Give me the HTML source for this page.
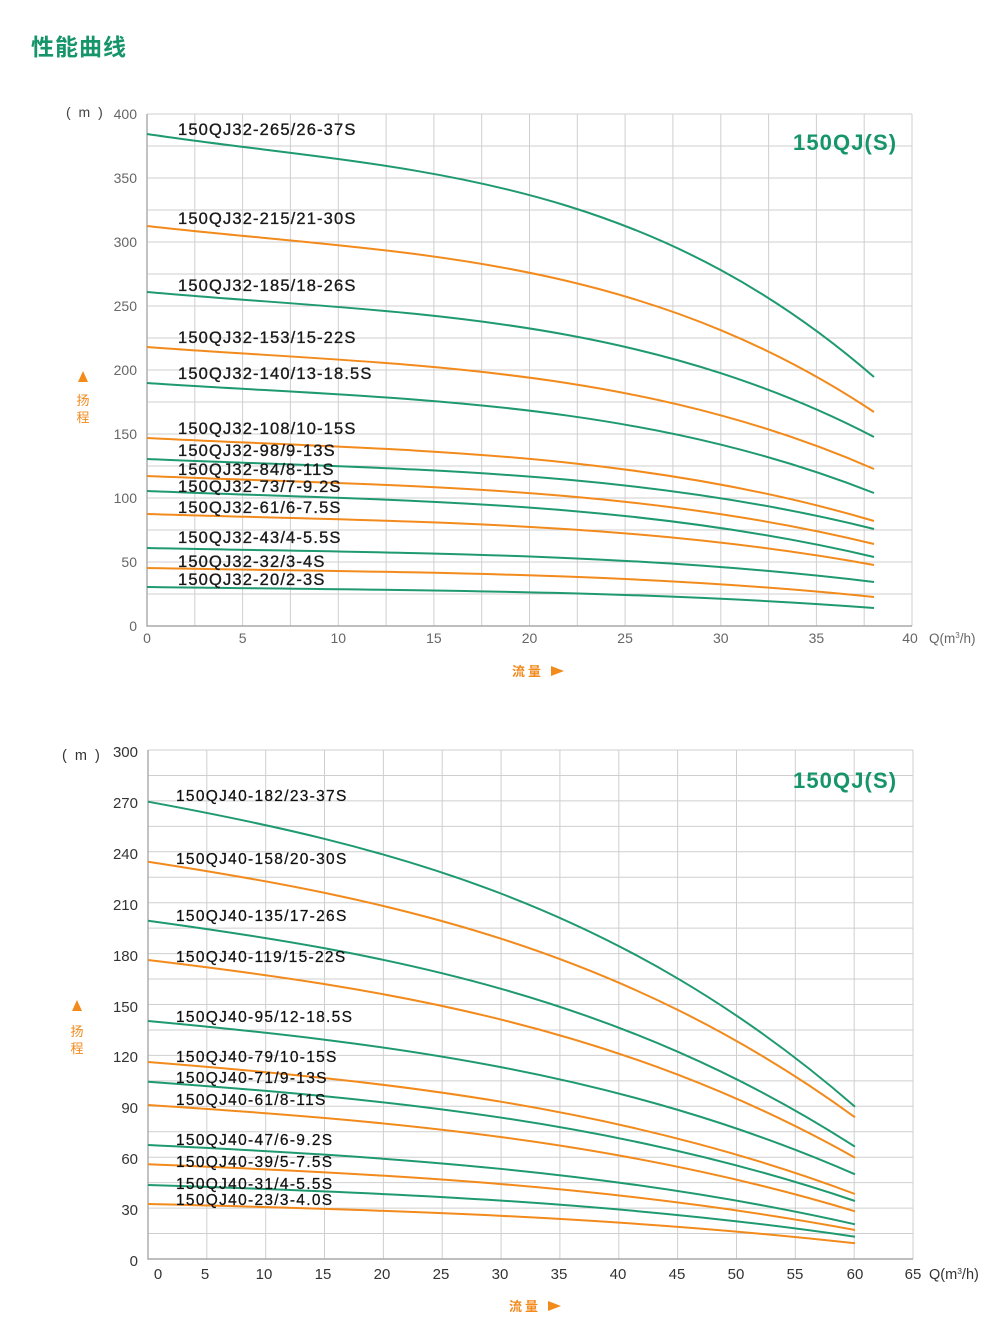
<!DOCTYPE html>
<html><head><meta charset="utf-8"><style>
html,body{margin:0;padding:0;background:#fff;}
svg{display:block;}
.t{font-family:"Liberation Sans","Noto Sans CJK SC",sans-serif;}
.lab1{font-size:16.5px;fill:#1a1a1a;letter-spacing:1.15px;stroke:#1a1a1a;stroke-width:0.35px;}
.lab2{font-size:15.5px;fill:#111;letter-spacing:1.3px;stroke:#111;stroke-width:0.25px;}
.ax1{font-size:14px;fill:#666;}
.ax2{font-size:15px;fill:#333;}
.g{fill:none;stroke:#1f9a6f;stroke-width:2;}
.o{fill:none;stroke:#f28a1c;stroke-width:2;}
.grid{fill:none;stroke:#cfcfcf;stroke-width:1;}
.axl{fill:none;stroke:#a8a8a8;stroke-width:1.4;}
</style></head><body>
<svg width="996" height="1320" viewBox="0 0 996 1320" xmlns="http://www.w3.org/2000/svg">
<rect width="996" height="1320" fill="#fff"/>
<text x="31" y="55" class="t" style="font-family:'Liberation Sans','Noto Sans CJK SC',sans-serif;font-size:23px;font-weight:bold;fill:#17956a;letter-spacing:1px">性能曲线</text>

<!-- ===== TOP CHART ===== -->
<path class="grid" d="M194.8,114V626 M242.6,114V626 M290.4,114V626 M338.3,114V626 M386.1,114V626 M433.9,114V626 M481.7,114V626 M529.5,114V626 M577.3,114V626 M625.1,114V626 M672.9,114V626 M720.8,114V626 M768.6,114V626 M816.4,114V626 M864.2,114V626 M912,114V626
M147,114H912 M147,146H912 M147,178H912 M147,210H912 M147,242H912 M147,274H912 M147,306H912 M147,338H912 M147,370H912 M147,402H912 M147,434H912 M147,466H912 M147,498H912 M147,530H912 M147,562H912 M147,594H912"/>
<path class="axl" d="M147,114V626H912"/>

<path class="g" d="M147,134 C389.3,170.5 631.7,166.4 874,377"/>
<path class="o" d="M147,226 C389.3,253.9 631.7,250.8 874,412"/>
<path class="g" d="M147,292 C389.3,313.8 631.7,311.3 874,437"/>
<path class="o" d="M147,347 C389.3,365.3 631.7,363.3 874,469"/>
<path class="g" d="M147,383 C389.3,399.5 631.7,397.7 874,493"/>
<path class="o" d="M147,438 C389.3,450.5 631.7,449.1 874,521"/>
<path class="g" d="M147,459 C389.3,469.5 631.7,468.3 874,529"/>
<path class="o" d="M147,476 C389.3,486.2 631.7,485.1 874,544"/>
<path class="g" d="M147,491 C389.3,500.9 631.7,499.8 874,557"/>
<path class="o" d="M147,514 C389.3,521.7 631.7,520.8 874,565"/>
<path class="g" d="M147,548 C389.3,553.1 631.7,552.5 874,582"/>
<path class="o" d="M147,568 C389.3,572.4 631.7,571.9 874,597"/>
<path class="g" d="M147,587 C389.3,590.2 631.7,589.8 874,608"/>

<g class="t lab1">
<text x="178" y="135">150QJ32-265/26-37S</text>
<text x="178" y="224">150QJ32-215/21-30S</text>
<text x="178" y="291">150QJ32-185/18-26S</text>
<text x="178" y="343">150QJ32-153/15-22S</text>
<text x="178" y="379">150QJ32-140/13-18.5S</text>
<text x="178" y="434">150QJ32-108/10-15S</text>
<text x="178" y="456">150QJ32-98/9-13S</text>
<text x="178" y="475">150QJ32-84/8-11S</text>
<text x="178" y="492">150QJ32-73/7-9.2S</text>
<text x="178" y="513">150QJ32-61/6-7.5S</text>
<text x="178" y="543">150QJ32-43/4-5.5S</text>
<text x="178" y="567">150QJ32-32/3-4S</text>
<text x="178" y="585">150QJ32-20/2-3S</text>
</g>

<text x="793" y="150" class="t" style="font-size:22px;font-weight:bold;fill:#17956a;letter-spacing:1.1px">150QJ(S)</text>

<g class="t ax1" text-anchor="end">
<text x="137" y="119">400</text>
<text x="137" y="183">350</text>
<text x="137" y="247">300</text>
<text x="137" y="311">250</text>
<text x="137" y="375">200</text>
<text x="137" y="439">150</text>
<text x="137" y="503">100</text>
<text x="137" y="567">50</text>
<text x="137" y="631">0</text>
</g>
<g class="t ax1" text-anchor="middle">
<text x="147" y="643">0</text>
<text x="242.6" y="643">5</text>
<text x="338.3" y="643">10</text>
<text x="433.9" y="643">15</text>
<text x="529.5" y="643">20</text>
<text x="625.1" y="643">25</text>
<text x="720.8" y="643">30</text>
<text x="816.4" y="643">35</text>
<text x="910" y="643">40</text>
</g>
<text x="929" y="643" class="t" style="font-size:13.5px;fill:#666">Q(m<tspan dy="-5" font-size="8">3</tspan><tspan dy="5">/h)</tspan></text>
<text x="66" y="117" class="t" style="font-size:14px;fill:#444;letter-spacing:2px">( m )</text>

<polygon points="83,371 88,382 78,382" fill="#f28a1c"/>
<text x="83" y="405" class="t" text-anchor="middle" style="font-size:13px;fill:#f28a1c">扬</text>
<text x="83" y="422" class="t" text-anchor="middle" style="font-size:13px;fill:#f28a1c">程</text>
<text x="512" y="676" class="t" style="font-size:13px;font-weight:bold;fill:#f28a1c;letter-spacing:3px">流量</text>
<polygon points="551,666 564,671 551,676" fill="#f28a1c"/>

<!-- ===== BOTTOM CHART ===== -->
<path class="grid" d="M206.8,750V1259 M265.7,750V1259 M324.5,750V1259 M383.4,750V1259 M442.2,750V1259 M501.1,750V1259 M559.9,750V1259 M618.8,750V1259 M677.6,750V1259 M736.5,750V1259 M795.3,750V1259 M854.2,750V1259 M913,750V1259
M148,750H913 M148,775.45H913 M148,800.9H913 M148,826.35H913 M148,851.8H913 M148,877.25H913 M148,902.7H913 M148,928.15H913 M148,953.6H913 M148,979.05H913 M148,1004.5H913 M148,1029.95H913 M148,1055.4H913 M148,1080.85H913 M148,1106.3H913 M148,1131.75H913 M148,1157.2H913 M148,1182.65H913 M148,1208.1H913 M148,1233.55H913"/>
<path class="axl" d="M148,750V1259H913"/>

<path class="g" d="M148,801.7 C383.7,845.2 619.3,902 855,1106.7"/>
<path class="o" d="M148,861.7 C383.7,898.1 619.3,945.8 855,1117.3"/>
<path class="g" d="M148,920.7 C383.7,952.9 619.3,995.1 855,1146.7"/>
<path class="o" d="M148,960 C383.7,988.2 619.3,1025 855,1157.7"/>
<path class="g" d="M148,1021 C383.7,1042.9 619.3,1071.4 855,1174.3"/>
<path class="o" d="M148,1062 C383.7,1080.8 619.3,1105.4 855,1194"/>
<path class="g" d="M148,1081.7 C383.7,1098.7 619.3,1120.9 855,1201"/>
<path class="o" d="M148,1105 C383.7,1120.2 619.3,1140 855,1211.3"/>
<path class="g" d="M148,1145 C383.7,1156.3 619.3,1171.1 855,1224.3"/>
<path class="o" d="M148,1164.3 C383.7,1173.7 619.3,1185.9 855,1230"/>
<path class="g" d="M148,1185 C383.7,1192.4 619.3,1202 855,1236.7"/>
<path class="o" d="M148,1204 C383.7,1209.6 619.3,1216.9 855,1243.3"/>

<g class="t lab2">
<text x="176" y="801">150QJ40-182/23-37S</text>
<text x="176" y="864">150QJ40-158/20-30S</text>
<text x="176" y="921">150QJ40-135/17-26S</text>
<text x="176" y="962">150QJ40-119/15-22S</text>
<text x="176" y="1022">150QJ40-95/12-18.5S</text>
<text x="176" y="1062">150QJ40-79/10-15S</text>
<text x="176" y="1083">150QJ40-71/9-13S</text>
<text x="176" y="1105">150QJ40-61/8-11S</text>
<text x="176" y="1145">150QJ40-47/6-9.2S</text>
<text x="176" y="1167">150QJ40-39/5-7.5S</text>
<text x="176" y="1189">150QJ40-31/4-5.5S</text>
<text x="176" y="1205">150QJ40-23/3-4.0S</text>
</g>

<text x="793" y="788" class="t" style="font-size:22px;font-weight:bold;fill:#17956a;letter-spacing:1.1px">150QJ(S)</text>

<g class="t ax2" text-anchor="end">
<text x="138" y="757">300</text>
<text x="138" y="808">270</text>
<text x="138" y="859">240</text>
<text x="138" y="910">210</text>
<text x="138" y="961">180</text>
<text x="138" y="1012">150</text>
<text x="138" y="1062">120</text>
<text x="138" y="1113">90</text>
<text x="138" y="1164">60</text>
<text x="138" y="1215">30</text>
<text x="138" y="1266">0</text>
</g>
<g class="t ax2" text-anchor="middle">
<text x="158" y="1279">0</text>
<text x="205" y="1279">5</text>
<text x="264" y="1279">10</text>
<text x="323" y="1279">15</text>
<text x="382" y="1279">20</text>
<text x="441" y="1279">25</text>
<text x="500" y="1279">30</text>
<text x="559" y="1279">35</text>
<text x="618" y="1279">40</text>
<text x="677" y="1279">45</text>
<text x="736" y="1279">50</text>
<text x="795" y="1279">55</text>
<text x="855" y="1279">60</text>
<text x="913" y="1279">65</text>
</g>
<text x="929" y="1279" class="t" style="font-size:14.5px;fill:#333">Q(m<tspan dy="-5" font-size="8.5">3</tspan><tspan dy="5">/h)</tspan></text>
<text x="62" y="760" class="t" style="font-size:14.5px;fill:#333;letter-spacing:2px">( m )</text>

<polygon points="77,1000 82,1011 72,1011" fill="#f28a1c"/>
<text x="77" y="1036" class="t" text-anchor="middle" style="font-size:13px;fill:#f28a1c">扬</text>
<text x="77" y="1053" class="t" text-anchor="middle" style="font-size:13px;fill:#f28a1c">程</text>
<text x="509" y="1311" class="t" style="font-size:13px;font-weight:bold;fill:#f28a1c;letter-spacing:3px">流量</text>
<polygon points="548,1301 561,1306 548,1311" fill="#f28a1c"/>
</svg>
</body></html>
